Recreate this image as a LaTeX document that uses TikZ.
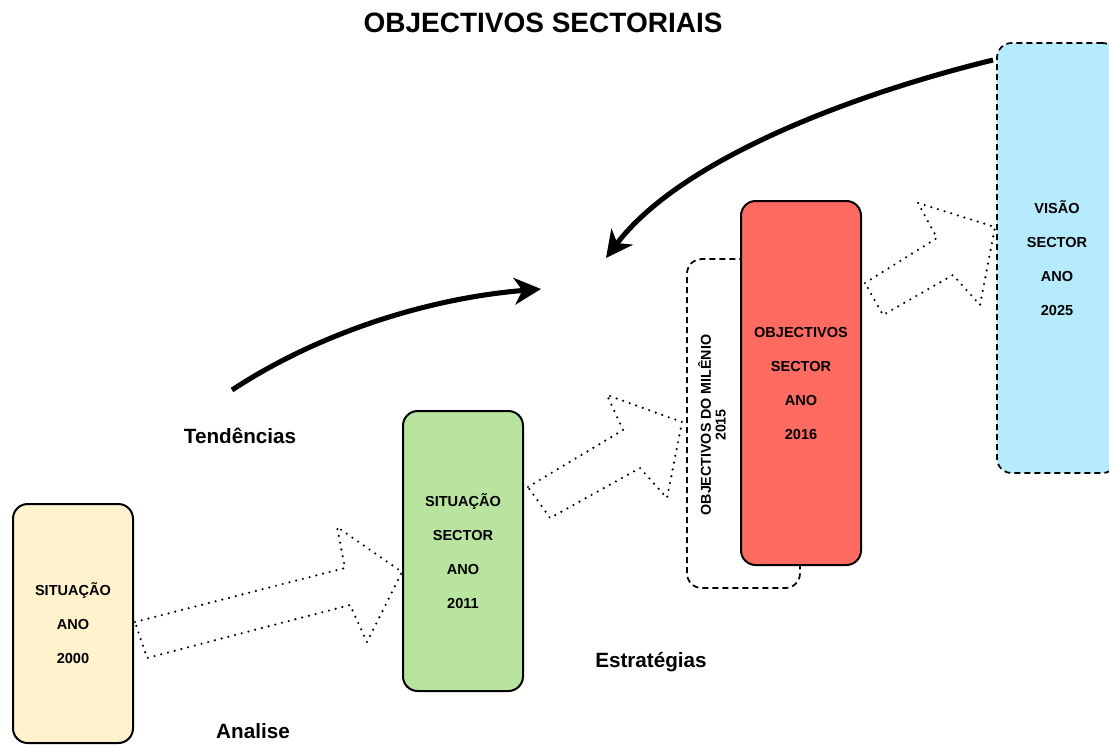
\documentclass[tikz,border=0pt]{standalone}
\usepackage{fontspec}
\setmainfont{Liberation Sans}
\usetikzlibrary{arrows.meta}
\definecolor{cyellow}{HTML}{FFF2CC}
\definecolor{cgreen}{HTML}{B9E4A0}
\definecolor{cred}{HTML}{FF6A61}
\definecolor{cblue}{HTML}{B5EBFC}
\tikzset{
  box/.style={draw=black, line width=1.5pt, rounded corners=11pt, minimum width=90pt, align=center, inner sep=0pt,
    font=\fontsize{10.9}{25.5}\selectfont\bfseries},
  dashbox/.style={draw=black, line width=1.3pt, dash pattern=on 4.5pt off 3pt, rounded corners=11pt, inner sep=0pt},
  dotarrow/.style={draw=black, line width=1.8pt, dash pattern=on 0pt off 5.2pt, line cap=round, line join=round},
  bigarrow/.style={line width=3.8pt, -{Triangle[length=20pt, width=20pt, inset=6pt]}},
  lbl/.style={font=\fontsize{15.5}{18}\selectfont\bfseries}
}
\begin{document}
\begin{tikzpicture}[x=0.75pt, y=-0.75pt]
\useasboundingbox (0,0) rectangle (1109,744);
\begin{scope}
\clip (0,0) rectangle (1109,744);
% title
\node[font=\fontsize{21}{24}\selectfont\bfseries] (title) at (543,23) {OBJECTIVOS SECTORIAIS};
% dashed millennium box (behind red box)
\node[dashbox, minimum width=84.75pt, minimum height=246.75pt] (mil) at (743.5,423.5) {};
% boxes
\node[box, fill=cyellow, minimum height=179.25pt] (s2000) at (73,623.5) {SITUAÇÃO\\ANO\\2000};
\node[box, fill=cgreen, minimum height=210pt] (s2011) at (463,551) {SITUAÇÃO\\SECTOR\\ANO\\2011};
\node[box, fill=cred, minimum height=273pt] (o2016) at (801,383) {OBJECTIVOS\\SECTOR\\ANO\\2016};
\node[box, fill=cblue, dash pattern=on 4.5pt off 3pt, line width=1.3pt, minimum height=322.5pt] (v2025) at (1057,258) {VISÃO\\SECTOR\\ANO\\2025};
% rotated millennium label
\node[rotate=90, align=center, font=\fontsize{10.7}{11}\selectfont\bfseries] (millbl) at (712,425) {OBJECTIVOS DO MILÊNIO\\2015};
% labels
\node[lbl] (tend) at (240,436) {Tendências};
\node[lbl] (estr) at (651,662) {Estratégias};
\node[lbl] (anal) at (253,731) {Analise};
% dotted block arrows
\draw[dotarrow] (135,622) -- (345,568) -- (337,527) -- (402,572) -- (367,642) -- (350,605) -- (147,658) -- cycle;
\draw[dotarrow] (528,487) -- (623,430) -- (607,395) -- (682,422) -- (667,498) -- (640,468) -- (550,518) -- cycle;
\draw[dotarrow] (865,283) -- (937,238) -- (918,203) -- (995,227) -- (980,305) -- (953,275) -- (883,315) -- cycle;
% curved arrows
\coordinate (t1) at (232,390);
\coordinate (t2) at (541,289);
\coordinate (v1) at (993,60);
\coordinate (v2) at (606,258);
\draw[bigarrow] (t1) .. controls (320,332) and (430,298) .. (t2);
\draw[bigarrow] (v1) .. controls (850,95) and (680,160) .. (v2);
\end{scope}
\end{tikzpicture}
\end{document}
